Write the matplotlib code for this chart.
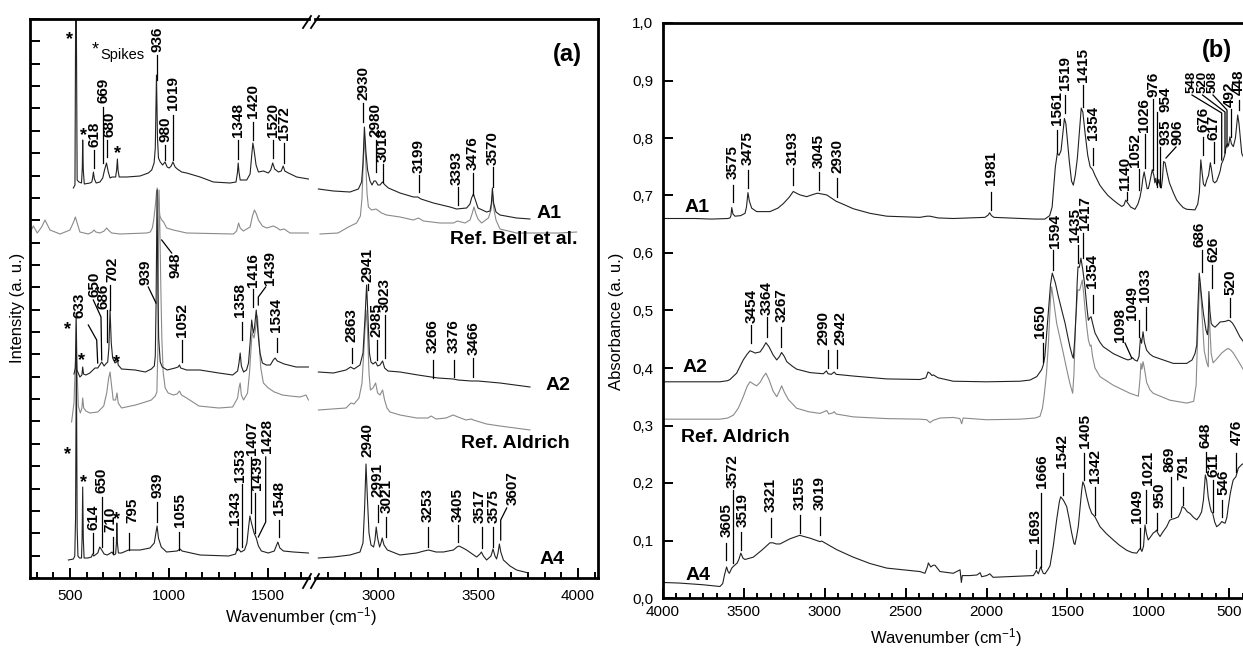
import matplotlib
matplotlib.use('Agg')
import matplotlib.pyplot as plt
from matplotlib.ticker import MultipleLocator, AutoMinorLocator, FuncFormatter, NullFormatter
from matplotlib.lines import Line2D

plt.rcParams['font.family'] = ['Liberation Sans', 'DejaVu Sans']
plt.rcParams['mathtext.default'] = 'regular'

# ---------------- data: panel (a) Raman (wavenumber, intensity a.u.) ----------------
A1_low = [(517, 390), (525, 393), (530, 640), (536, 398), (545, 396), (558, 395), (562, 410), (564, 438),
          (567, 408), (572, 394), (601, 395), (610, 396), (614, 400), (618, 406), (623, 399), (632, 395),
          (651, 396), (665, 400), (674, 408), (684, 415), (693, 406), (702, 400), (712, 401), (730, 401),
          (735, 408), (739, 419), (742, 408), (748, 401), (786, 401), (853, 402), (895, 405), (912, 408),
          (924, 415), (930, 430), (936, 503), (941, 440), (946, 420), (955, 416), (967, 413), (979, 416),
          (990, 411), (1000, 410), (1010, 412), (1019, 416), (1030, 411), (1041, 409), (1063, 406),
          (1088, 405), (1156, 401), (1223, 396), (1307, 395), (1337, 396), (1344, 405), (1348, 415),
          (1352, 406), (1358, 398), (1375, 398), (1391, 398), (1408, 404), (1415, 420), (1422, 435),
          (1428, 428), (1438, 413), (1450, 406), (1475, 407), (1500, 405), (1512, 408), (1522, 415),
          (1532, 409), (1551, 406), (1565, 407), (1575, 412), (1583, 407), (1601, 405), (1643, 401),
          (1702, 399)]
A1_high = [(2702, 389), (2777, 387), (2860, 386), (2902, 389), (2918, 396), (2925, 415), (2932, 451),
           (2940, 425), (2948, 408), (2960, 397), (2970, 393), (2980, 397), (2988, 397), (3000, 393),
           (3010, 393), (3022, 396), (3035, 393), (3052, 390), (3110, 385), (3177, 381), (3199, 381),
           (3215, 379), (3277, 375), (3360, 371), (3393, 369), (3443, 370), (3460, 374), (3468, 380),
           (3477, 384), (3487, 378), (3500, 370), (3543, 366), (3560, 367), (3567, 375), (3572, 390),
           (3578, 375), (3590, 366), (3610, 363), (3693, 360), (3760, 359)]
Bell_low = [(298, 345), (315, 352), (335, 345), (357, 351), (374, 358), (399, 348), (450, 344), (500, 348),
            (518, 356), (527, 361), (536, 355), (550, 346), (592, 344), (612, 346), (621, 348), (630, 346),
            (651, 345), (672, 347), (685, 350), (698, 347), (710, 345), (752, 344), (887, 345), (905, 346),
            (915, 350), (922, 358), (930, 372), (936, 385), (940, 390), (946, 375), (953, 362), (962, 358),
            (972, 356), (987, 350), (1021, 348), (1088, 345), (1324, 344), (1340, 347), (1350, 355),
            (1358, 350), (1374, 347), (1408, 351), (1420, 362), (1430, 368), (1440, 364), (1450, 358),
            (1470, 352), (1492, 350), (1525, 352), (1545, 350), (1559, 348), (1580, 349), (1609, 345),
            (1702, 345)]
Bell_high = [(2710, 344), (2800, 345), (2852, 351), (2893, 355), (2912, 362), (2920, 380), (2927, 420),
             (2932, 440), (2938, 420), (2945, 385), (2952, 371), (2968, 368), (2990, 369), (3018, 365),
             (3043, 363), (3110, 361), (3177, 358), (3202, 360), (3227, 357), (3310, 355), (3377, 355),
             (3397, 357), (3435, 355), (3460, 358), (3470, 364), (3480, 371), (3490, 364), (3500, 359),
             (3518, 355), (3552, 360), (3565, 368), (3573, 383), (3580, 368), (3590, 358), (3610, 349),
             (3693, 345), (3910, 345), (3993, 346)]
A2_low = [(520, 204), (527, 210), (531, 265), (535, 208), (550, 201), (560, 203), (564, 211), (568, 204),
          (580, 203), (600, 205), (626, 210), (640, 210), (650, 213), (660, 216), (672, 212), (680, 214),
          (690, 216), (696, 230), (702, 268), (708, 235), (715, 220), (727, 215), (735, 216), (739, 220),
          (743, 213), (760, 209), (828, 208), (880, 206), (910, 209), (925, 212), (930, 222), (934, 275),
          (939, 388), (943, 290), (947, 240), (955, 216), (965, 211), (990, 208), (1030, 210), (1045, 211),
          (1052, 213), (1058, 210), (1088, 208), (1155, 208), (1250, 205), (1320, 203), (1345, 207),
          (1352, 215), (1358, 225), (1364, 212), (1375, 206), (1390, 208), (1400, 215), (1408, 235),
          (1416, 258), (1424, 245), (1430, 250), (1439, 268), (1448, 245), (1458, 225), (1470, 215),
          (1490, 213), (1510, 213), (1525, 218), (1534, 220), (1545, 217), (1580, 214), (1640, 211),
          (1702, 211)]
A2_high = [(2702, 206), (2777, 205), (2840, 208), (2863, 211), (2880, 209), (2910, 213), (2925, 225),
           (2935, 260), (2943, 293), (2950, 260), (2957, 225), (2965, 216), (2975, 214), (2988, 216),
           (2998, 212), (3010, 213), (3023, 217), (3033, 210), (3050, 207), (3110, 206), (3200, 203),
           (3266, 201), (3300, 200), (3376, 199), (3400, 198), (3466, 197), (3500, 197), (3610, 195),
           (3760, 191)]
Ald_low = [(508, 156), (520, 175), (527, 215), (532, 225), (537, 200), (542, 172), (552, 165), (560, 170),
           (564, 180), (569, 170), (580, 167), (600, 165), (640, 166), (670, 172), (685, 185), (695, 200),
           (702, 206), (708, 195), (718, 178), (730, 178), (737, 185), (743, 175), (760, 170), (830, 173),
           (880, 176), (910, 178), (930, 182), (938, 186), (943, 230), (946, 330), (949, 388), (953, 350),
           (958, 290), (963, 240), (970, 205), (980, 190), (995, 185), (1020, 183), (1040, 184),
           (1052, 187), (1062, 183), (1088, 180), (1150, 172), (1250, 170), (1320, 171), (1345, 180),
           (1352, 190), (1358, 195), (1364, 183), (1375, 178), (1395, 185), (1405, 205), (1418, 245),
           (1428, 240), (1436, 250), (1445, 262), (1452, 240), (1462, 210), (1475, 195), (1500, 190),
           (1530, 186), (1545, 185), (1570, 183), (1610, 182), (1660, 181), (1690, 183), (1702, 178)]
Ald_high = [(2702, 168), (2840, 170), (2865, 175), (2880, 174), (2905, 180), (2920, 195), (2930, 230),
            (2940, 268), (2947, 250), (2955, 205), (2962, 188), (2975, 190), (2988, 195), (2998, 185),
            (3010, 183), (3023, 188), (3033, 178), (3045, 170), (3060, 166), (3110, 163), (3193, 160),
            (3250, 160), (3266, 162), (3290, 159), (3340, 160), (3376, 163), (3400, 161), (3440, 158),
            (3466, 159), (3477, 158), (3543, 154), (3610, 152), (3760, 148)]
A4_low = [(492, 18), (517, 19), (524, 22), (528, 60), (532, 230), (536, 50), (540, 22), (548, 20), (558, 20),
          (561, 40), (564, 91), (567, 40), (571, 20), (590, 20), (608, 21), (614, 24), (620, 22), (640, 25),
          (650, 31), (660, 28), (672, 24), (688, 23), (705, 25), (712, 26), (720, 23), (730, 24), (734, 35),
          (736, 55), (739, 35), (744, 25), (760, 25), (795, 28), (853, 28), (903, 30), (925, 35), (933, 45),
          (939, 52), (946, 40), (960, 31), (987, 26), (1040, 27), (1055, 29), (1065, 27), (1156, 23),
          (1300, 22), (1335, 24), (1343, 30), (1353, 28), (1362, 26), (1380, 28), (1392, 35), (1400, 50),
          (1407, 62), (1415, 55), (1428, 45), (1439, 40), (1450, 32), (1465, 27), (1500, 25), (1530, 27),
          (1540, 32), (1548, 36), (1558, 30), (1576, 27), (1626, 26), (1702, 25)]
A4_high = [(2702, 20), (2777, 21), (2860, 23), (2910, 26), (2925, 35), (2933, 70), (2940, 114), (2947, 80),
           (2955, 45), (2965, 33), (2978, 31), (2985, 38), (2991, 51), (2998, 40), (3008, 31), (3015, 35),
           (3021, 40), (3030, 33), (3047, 28), (3110, 23), (3193, 25), (3230, 27), (3253, 28), (3290, 26),
           (3327, 26), (3377, 28), (3395, 31), (3405, 32), (3425, 30), (3443, 28), (3493, 21), (3510, 24),
           (3517, 26), (3527, 22), (3543, 18), (3565, 22), (3575, 29), (3585, 22), (3593, 19), (3600, 25),
           (3607, 34), (3614, 26), (3627, 18), (3660, 12), (3693, 8), (3752, 5)]

# ---------------- data: panel (b) IR absorbance ----------------
A1_ir = [(4000, 0.660), (3800, 0.660), (3700, 0.659), (3600, 0.660), (3586, 0.661), (3580, 0.665),
         (3575, 0.679), (3568, 0.668), (3555, 0.664), (3520, 0.665), (3493, 0.669), (3484, 0.680),
         (3475, 0.705), (3466, 0.690), (3452, 0.678), (3421, 0.672), (3339, 0.672), (3290, 0.678),
         (3256, 0.686), (3220, 0.697), (3195, 0.707), (3175, 0.704), (3153, 0.701), (3112, 0.698),
         (3070, 0.702), (3045, 0.704), (2988, 0.701), (2930, 0.690), (2880, 0.684), (2824, 0.677),
         (2721, 0.669), (2617, 0.664), (2412, 0.662), (2370, 0.664), (2350, 0.664), (2300, 0.661),
         (2206, 0.660), (2010, 0.662), (1990, 0.666), (1981, 0.670), (1970, 0.665), (1955, 0.662),
         (1794, 0.660), (1700, 0.659), (1640, 0.659), (1610, 0.665), (1595, 0.680), (1585, 0.715),
         (1575, 0.750), (1563, 0.773), (1552, 0.770), (1540, 0.778), (1528, 0.810), (1519, 0.834),
         (1510, 0.825), (1500, 0.795), (1489, 0.760), (1475, 0.725), (1464, 0.718), (1452, 0.735),
         (1439, 0.765), (1425, 0.815), (1415, 0.852), (1405, 0.845), (1392, 0.810), (1375, 0.770),
         (1360, 0.750), (1354, 0.748), (1345, 0.745), (1330, 0.735), (1300, 0.718), (1279, 0.710),
         (1250, 0.700), (1217, 0.692), (1190, 0.686), (1165, 0.681), (1152, 0.683), (1140, 0.692),
         (1130, 0.688), (1110, 0.680), (1083, 0.676), (1065, 0.685), (1052, 0.697), (1042, 0.712),
         (1034, 0.730), (1026, 0.741), (1018, 0.728), (1008, 0.712), (1000, 0.712), (990, 0.725),
         (976, 0.745), (966, 0.735), (960, 0.722), (954, 0.730), (948, 0.718), (940, 0.722), (935, 0.728),
         (928, 0.716), (920, 0.713), (913, 0.730), (906, 0.759), (897, 0.757), (885, 0.740), (870, 0.722),
         (846, 0.705), (825, 0.692), (805, 0.685), (785, 0.679), (763, 0.676), (712, 0.675), (695, 0.685),
         (685, 0.705), (676, 0.762), (668, 0.740), (660, 0.720), (650, 0.716), (638, 0.728), (628, 0.735),
         (617, 0.757), (610, 0.745), (600, 0.725), (590, 0.722), (578, 0.725), (565, 0.735), (557, 0.742),
         (548, 0.755), (537, 0.762), (528, 0.770), (520, 0.785), (510, 0.790), (505, 0.786), (496, 0.802),
         (487, 0.790), (475, 0.785), (462, 0.800), (455, 0.820), (448, 0.840), (440, 0.825), (430, 0.795),
         (423, 0.773), (400, 0.760)]
A2_ir = [(4000, 0.376), (3800, 0.376), (3648, 0.376), (3600, 0.378), (3586, 0.380), (3545, 0.391),
         (3504, 0.414), (3480, 0.424), (3462, 0.430), (3445, 0.428), (3431, 0.426), (3400, 0.428),
         (3380, 0.436), (3364, 0.444), (3345, 0.437), (3320, 0.423), (3297, 0.414), (3280, 0.420),
         (3267, 0.427), (3250, 0.420), (3235, 0.411), (3200, 0.403), (3174, 0.398), (3091, 0.392),
         (3009, 0.390), (2990, 0.395), (2980, 0.390), (2960, 0.389), (2942, 0.393), (2930, 0.389),
         (2824, 0.386), (2700, 0.383), (2617, 0.381), (2412, 0.380), (2375, 0.383), (2362, 0.393),
         (2350, 0.391), (2338, 0.387), (2329, 0.388), (2300, 0.383), (2206, 0.377), (2000, 0.376),
         (1794, 0.377), (1732, 0.379), (1690, 0.385), (1660, 0.397), (1650, 0.405), (1640, 0.420),
         (1630, 0.455), (1619, 0.495), (1605, 0.545), (1594, 0.565), (1575, 0.548), (1557, 0.525),
         (1535, 0.500), (1515, 0.478), (1500, 0.457), (1485, 0.437), (1470, 0.421), (1464, 0.417),
         (1455, 0.450), (1447, 0.495), (1440, 0.550), (1435, 0.576), (1427, 0.575), (1417, 0.591),
         (1405, 0.570), (1392, 0.541), (1380, 0.505), (1371, 0.483), (1360, 0.488), (1354, 0.489),
         (1345, 0.478), (1330, 0.461), (1300, 0.445), (1279, 0.437), (1217, 0.425), (1155, 0.417),
         (1126, 0.414), (1105, 0.416), (1098, 0.418), (1085, 0.414), (1069, 0.412), (1058, 0.420),
         (1049, 0.452), (1042, 0.443), (1033, 0.463), (1025, 0.445), (1011, 0.431), (990, 0.424),
         (970, 0.420), (908, 0.414), (846, 0.408), (763, 0.408), (730, 0.414), (712, 0.425), (701, 0.440),
         (694, 0.505), (686, 0.565), (680, 0.550), (672, 0.525), (660, 0.495), (644, 0.466), (635, 0.458),
         (630, 0.475), (626, 0.533), (620, 0.500), (612, 0.478), (603, 0.474), (588, 0.471), (570, 0.476),
         (557, 0.480), (526, 0.481), (505, 0.483), (495, 0.482), (480, 0.478), (465, 0.471), (434, 0.454),
         (413, 0.446), (400, 0.440)]
Ald_ir = [(4000, 0.350), (3995, 0.311), (3800, 0.311), (3648, 0.311), (3600, 0.313), (3565, 0.318),
          (3535, 0.330), (3504, 0.350), (3480, 0.368), (3462, 0.376), (3440, 0.372), (3421, 0.369),
          (3400, 0.375), (3380, 0.385), (3364, 0.391), (3345, 0.380), (3320, 0.360), (3297, 0.350),
          (3280, 0.360), (3267, 0.369), (3250, 0.358), (3225, 0.345), (3174, 0.330), (3100, 0.324),
          (3030, 0.321), (2988, 0.326), (2975, 0.320), (2950, 0.322), (2942, 0.324), (2930, 0.320),
          (2824, 0.315), (2617, 0.312), (2412, 0.311), (2370, 0.310), (2350, 0.305), (2330, 0.309),
          (2288, 0.313), (2206, 0.314), (2165, 0.312), (2154, 0.303), (2145, 0.313), (2000, 0.310),
          (1794, 0.311), (1700, 0.313), (1670, 0.316), (1655, 0.330), (1645, 0.350), (1630, 0.390),
          (1619, 0.437), (1605, 0.520), (1598, 0.541), (1585, 0.515), (1567, 0.478), (1545, 0.450),
          (1526, 0.426), (1505, 0.398), (1485, 0.373), (1468, 0.356), (1460, 0.390), (1450, 0.480),
          (1437, 0.536), (1425, 0.535), (1409, 0.553), (1400, 0.530), (1392, 0.503), (1380, 0.470),
          (1371, 0.449), (1360, 0.438), (1354, 0.440), (1345, 0.420), (1330, 0.400), (1299, 0.385),
          (1217, 0.370), (1114, 0.356), (1062, 0.351), (1052, 0.380), (1046, 0.408), (1040, 0.398),
          (1033, 0.411), (1025, 0.400), (1011, 0.375), (990, 0.362), (970, 0.356), (867, 0.344),
          (763, 0.339), (720, 0.342), (705, 0.370), (694, 0.470), (684, 0.547), (676, 0.530), (668, 0.490),
          (655, 0.430), (640, 0.410), (630, 0.402), (626, 0.501), (620, 0.470), (612, 0.425), (600, 0.409),
          (580, 0.415), (547, 0.426), (520, 0.432), (506, 0.434), (490, 0.431), (475, 0.426), (440, 0.410),
          (413, 0.397), (400, 0.390)]
A4_ir = [(4000, 0.027), (3900, 0.026), (3751, 0.023), (3648, 0.020), (3631, 0.025), (3620, 0.040),
         (3607, 0.054), (3598, 0.046), (3590, 0.043), (3575, 0.052), (3565, 0.055), (3541, 0.061),
         (3530, 0.068), (3519, 0.078), (3505, 0.069), (3493, 0.067), (3442, 0.071), (3390, 0.083),
         (3339, 0.096), (3321, 0.096), (3300, 0.094), (3277, 0.094), (3215, 0.103), (3155, 0.109),
         (3091, 0.104), (3030, 0.098), (3019, 0.099), (2926, 0.084), (2824, 0.071), (2721, 0.060),
         (2617, 0.052), (2515, 0.049), (2412, 0.046), (2381, 0.043), (2365, 0.055), (2360, 0.061),
         (2345, 0.054), (2330, 0.057), (2319, 0.057), (2288, 0.046), (2206, 0.043), (2164, 0.049),
         (2156, 0.027), (2150, 0.039), (2103, 0.039), (2060, 0.040), (2040, 0.044), (2030, 0.037),
         (2000, 0.039), (1980, 0.042), (1960, 0.036), (1794, 0.038), (1711, 0.039), (1700, 0.044),
         (1693, 0.048), (1680, 0.042), (1666, 0.054), (1650, 0.043), (1639, 0.042), (1620, 0.050),
         (1608, 0.056), (1588, 0.090), (1567, 0.136), (1550, 0.168), (1542, 0.176), (1525, 0.170),
         (1505, 0.159), (1490, 0.138), (1474, 0.113), (1460, 0.095), (1454, 0.093), (1443, 0.108),
         (1433, 0.125), (1420, 0.165), (1412, 0.188), (1405, 0.202), (1395, 0.195), (1381, 0.176),
         (1365, 0.158), (1350, 0.147), (1342, 0.145), (1330, 0.141), (1299, 0.124), (1260, 0.112),
         (1217, 0.101), (1180, 0.092), (1134, 0.083), (1100, 0.079), (1072, 0.078), (1055, 0.085),
         (1049, 0.086), (1040, 0.081), (1030, 0.090), (1021, 0.127), (1012, 0.112), (1001, 0.101),
         (990, 0.105), (970, 0.113), (955, 0.116), (950, 0.118), (940, 0.112), (928, 0.107), (910, 0.115),
         (887, 0.124), (869, 0.135), (856, 0.137), (840, 0.138), (815, 0.141), (800, 0.150), (791, 0.159),
         (775, 0.156), (760, 0.150), (743, 0.147), (720, 0.140), (701, 0.136), (685, 0.142), (671, 0.150),
         (660, 0.170), (648, 0.214), (640, 0.205), (630, 0.175), (619, 0.159), (611, 0.150), (603, 0.148),
         (590, 0.132), (578, 0.124), (560, 0.128), (546, 0.133), (535, 0.131), (526, 0.130), (515, 0.140),
         (506, 0.159), (495, 0.180), (485, 0.194), (476, 0.205), (468, 0.208), (459, 0.211), (450, 0.220),
         (444, 0.226), (423, 0.232), (400, 0.236)]

# ---------------- layout helpers (pixel -> figure) ----------------
W, H = 1243, 648
fig = plt.figure(figsize=(W / 100, H / 100), dpi=100)


def fx(px):
    return px / W


def fy(py):
    return 1 - py / H


DARK = '#222222'
GRAY = '#8a8a8a'
LW = 0.8


def style(ax, size_major=7, size_minor=4):
    for s in ax.spines.values():
        s.set_linewidth(2.0)
    ax.tick_params(which='both', direction='in', width=1.4, labelsize=11)
    ax.tick_params(which='major', length=size_major)
    ax.tick_params(which='minor', length=size_minor)


def curve(ax, pts, color):
    xs, ys = zip(*pts)
    ax.plot(xs, ys, color=color, lw=LW)


# ---------------- panel (a) : broken x axis ----------------
axL = fig.add_axes([fx(30), fy(578), fx(309) - fx(30), fy(19) - fy(578)])
axR = fig.add_axes([fx(315), fy(578), fx(598) - fx(315), fy(19) - fy(578)])
for ax, lim in ((axL, (298.3, 1705)), (axR, (2685, 4100))):
    ax.set_xlim(*lim)
    ax.set_ylim(0, 559)
    style(ax)
    ax.xaxis.set_major_locator(MultipleLocator(500))
    ax.xaxis.set_minor_locator(AutoMinorLocator(6))
    ax.tick_params(axis='x', pad=8)
    ax.tick_params(top=False, right=False)

axL.spines['right'].set_visible(False)
axR.spines['left'].set_visible(False)
axL.yaxis.set_major_locator(MultipleLocator(559 / 25))
axL.yaxis.set_major_formatter(NullFormatter())
axR.tick_params(left=False, labelleft=False)

for pts in (Bell_low, Ald_low):
    curve(axL, pts, GRAY)
for pts in (A1_low, A2_low, A4_low):
    curve(axL, pts, DARK)
for pts in (Bell_high, Ald_high):
    curve(axR, pts, GRAY)
for pts in (A1_high, A2_high, A4_high):
    curve(axR, pts, DARK)

# break marks
for (x0, y0, x1, y1) in [(303, 28, 311, 16), (311, 28, 319, 16), (303, 588, 311, 574), (311, 588, 319, 574)]:
    fig.add_artist(Line2D([fx(x0), fx(x1)], [fy(y0), fy(y1)], transform=fig.transFigure,
                          color='black', lw=1.3))

# ---------------- panel (b) ----------------
axB = fig.add_axes([fx(663), fy(598), fx(1250) - fx(663), fy(23) - fy(598)])
axB.set_xlim(4000, 372)
axB.set_ylim(0, 1.0)
style(axB, 7, 3.5)
axB.spines['right'].set_visible(False)
axB.xaxis.set_major_locator(MultipleLocator(500))
axB.xaxis.set_minor_locator(AutoMinorLocator(6))
axB.yaxis.set_major_locator(MultipleLocator(0.1))
axB.yaxis.set_major_formatter(FuncFormatter(lambda v, p: f'{v:.1f}'.replace('.', ',')))
axB.tick_params(axis='x', pad=5)
axB.tick_params(axis='y', pad=7)
axB.tick_params(top=False, right=False)

curve(axB, Ald_ir, GRAY)
for pts in (A1_ir, A2_ir, A4_ir):
    curve(axB, pts, DARK)

# ---------------- text ----------------
fig.text(fx(18), fy(308), 'Intensity (a. u.)', rotation=90, ha='center', va='center', fontsize=12)
fig.text(fx(301), fy(617), 'Wavenumber (cm$^{-1}$)', ha='center', va='center', fontsize=12)
fig.text(fx(617), fy(321), 'Absorbance (a. u.)', rotation=90, ha='center', va='center', fontsize=12)
fig.text(fx(946), fy(638), 'Wavenumber (cm$^{-1}$)', ha='center', va='center', fontsize=12)

fig.text(fx(567), fy(55), '(a)', ha='center', va='center', fontsize=17, fontweight='bold')
fig.text(fx(1217), fy(50), '(b)', ha='center', va='center', fontsize=17, fontweight='bold')

names = [('A1', 562, 213), ('Ref. Bell et al.', 578, 240), ('A2', 570, 385), ('Ref. Aldrich', 570, 443),
         ('A4', 565, 560)]
for t, x, y in names:
    fig.text(fx(x), fy(y), t, ha='right', va='center', fontsize=14, fontweight='bold')
names_b = [('A1', 697, 208), ('A2', 695, 368), ('Ref. Aldrich', 735, 437), ('A4', 698, 575)]
for t, x, y in names_b:
    fig.text(fx(x), fy(y), t, ha='center', va='center', fontsize=14, fontweight='bold')

stars = [(69, 37), (83, 133), (118, 151), (68, 327), (82, 358), (117, 360), (67, 452), (83, 480), (117, 517)]
for x, y in stars:
    fig.text(fx(x), fy(y + 7), '*', ha='center', va='baseline', fontsize=13, fontweight='bold')
fig.text(fx(95), fy(47 + 7), '*', ha='center', va='baseline', fontsize=13)
fig.text(fx(100), fy(55), 'Spikes', ha='left', va='center', fontsize=10.5)

peak_labels = [
    # panel (a) A1
    ('936', 157, 52, [(157, 55), (157, 80)]),
    ('669', 104, 103, [(103.3, 107), (103.3, 163)]),
    ('680', 110, 137, [(106.7, 140), (106.7, 157)]),
    ('618', 94, 147, [(94.3, 150), (94.3, 168)]),
    ('980', 165, 142, [(165, 145), (165, 160)]),
    ('1019', 173, 110, [(173.3, 115), (173.3, 160)]),
    ('1348', 238, 137, [(238.3, 140), (238.3, 159)]),
    ('1420', 253, 118, [(253.3, 122), (253.3, 140)]),
    ('1520', 273, 137, [(273.3, 140), (273.3, 158)]),
    ('1572', 284, 140, [(284, 143), (284, 163)]),
    ('2930', 363, 100, [(363.3, 103), (363.3, 122)]),
    ('2980', 375, 137, [(376, 140), (376, 172)]),
    ('3018', 383, 162, [(383.3, 164), (383.3, 182)]),
    ('3199', 419, 173, [(419.3, 175), (419.3, 192)]),
    ('3393', 457, 185, [(457.7, 187), (457.7, 205)]),
    ('3476', 473, 170, [(473.3, 173), (473.3, 195)]),
    ('3570', 493, 165, [(492.7, 167), (492.7, 187)]),
    # panel (a) A2
    ('633', 80, 318, [(88.3, 325), (96.7, 340), (97.7, 363)]),
    ('650', 94, 297, [(93.3, 300), (101, 317), (101.7, 360)]),
    ('686', 104, 309, [(106.7, 310), (106.7, 342)]),
    ('702', 112, 282, [(110, 285), (110, 310)]),
    ('939', 146, 285, [(148.3, 287), (156, 303)]),
    ('948', 175, 278, [(171.7, 253), (161.7, 240)]),
    ('1052', 182, 337, [(181.7, 340), (181.7, 362)]),
    ('1358', 240, 317, [(241.7, 322), (241.7, 340)]),
    ('1416', 253, 287, [(253.3, 289), (253.3, 307)]),
    ('1439', 270, 285, [(265.7, 287), (258.3, 297), (258.3, 305)]),
    ('1534', 276, 332, [(276.7, 338), (276.7, 352)]),
    ('2863', 352, 342, [(351.7, 348), (351.7, 363)]),
    ('2941', 368, 282, [(368, 284), (368, 290)]),
    ('2985', 376, 337, [(377.3, 340), (377.3, 360)]),
    ('3023', 385, 312, [(385.3, 315), (385.3, 358)]),
    ('3266', 433, 353, [(432.7, 360), (432.7, 378)]),
    ('3376', 454, 353, [(454, 360), (454, 377)]),
    ('3466', 474, 355, [(473.3, 358), (473.3, 377)]),
    # panel (a) A4
    ('614', 93, 530, [(93.3, 533), (93.3, 553)]),
    ('650', 102, 493, [(101.7, 497), (101.7, 547)]),
    ('710', 110, 532, [(112.7, 537), (112.7, 553)]),
    ('795', 132, 523, [(129.3, 533), (129.3, 550)]),
    ('939', 157, 498, [(157.3, 502), (157.3, 522)]),
    ('1055', 180, 527, [(179.3, 532), (179.3, 550)]),
    ('1343', 235, 525, [(237.3, 528), (237.3, 550)]),
    ('1353', 240, 482, [(241.7, 484), (241.7, 547)]),
    ('1407', 252, 455, [(250.7, 457), (250.7, 513)]),
    ('1439', 257, 490, [(255, 493), (255, 533)]),
    ('1428', 267, 453, [(265.7, 457), (265.7, 522), (258.3, 537)]),
    ('1548', 279, 515, [(279.3, 520), (279.3, 537)]),
    ('2940', 368, 457, None),
    ('2991', 378, 497, [(378.3, 505), (378.3, 522)]),
    ('3021', 387, 513, [(386, 517), (386, 537)]),
    ('3253', 428, 522, [(428.3, 527), (428.3, 547)]),
    ('3405', 458, 522, [(458.3, 525), (458.3, 542)]),
    ('3517', 480, 523, [(481.7, 527), (481.7, 548)]),
    ('3575', 494, 523, [(493.3, 527), (493.3, 547)]),
    ('3607', 513, 505, [(506.7, 508), (500.7, 520), (500.7, 540)]),
    # panel (b) A1
    ('3575', 733, 179, [(732.7, 185), (732.7, 202)]),
    ('3475', 748, 165, [(748.3, 170), (748.3, 188)]),
    ('3193', 793, 165, [(793.3, 168), (793.3, 185)]),
    ('3045', 819, 168, [(819, 172), (819, 190)]),
    ('2930', 837, 173, [(837.3, 178), (837.3, 197)]),
    ('1981', 991, 185, [(990.7, 192), (990.7, 210)]),
    ('1561', 1057, 125, [(1056.7, 130), (1056.7, 153)]),
    ('1519', 1065, 90, [(1065, 95), (1065, 113)]),
    ('1415', 1083, 82, [(1082.7, 85), (1082.7, 107)]),
    ('1354', 1093, 140, [(1092.7, 148), (1092.7, 165)]),
    ('1140', 1125, 190, [(1126.7, 192), (1126.7, 200)]),
    ('1052', 1135, 167, [(1139, 169), (1139, 190)]),
    ('1026', 1144, 132, [(1145, 134), (1145, 168)]),
    ('976', 1153, 97, [(1153.3, 99), (1153.3, 170)]),
    ('954', 1165, 112, [(1157.3, 112), (1157.3, 187)]),
    ('935', 1165, 145, [(1160, 147), (1160, 187)]),
    ('906', 1178, 145, [(1176, 147), (1166, 158)]),
    ('676', 1203, 132, [(1202.7, 137), (1202.7, 155)]),
    ('617', 1214, 140, [(1214, 142), (1214, 163)]),
    ('492', 1230, 107, [(1230.7, 109), (1230.7, 137)]),
    ('448', 1239, 95, [(1239.3, 100), (1239.3, 110)]),
    # panel (b) A2
    ('3454', 752, 323, [(751, 325), (751, 343)]),
    ('3364', 767, 315, [(766.7, 317), (766.7, 337)]),
    ('3267', 782, 322, [(780.7, 327), (780.7, 347)]),
    ('2990', 824, 345, [(828.3, 350), (828.3, 368)]),
    ('2942', 840, 345, [(837.3, 350), (837.3, 368)]),
    ('1594', 1055, 248, [(1053.3, 250), (1053.3, 270)]),
    ('1435', 1075, 242, [(1078.3, 245), (1078.3, 263)]),
    ('1417', 1085, 230, [(1082.7, 233), (1082.7, 258)]),
    ('1354', 1092, 288, [(1092.7, 295), (1092.7, 313)]),
    ('1650', 1040, 338, [(1043.3, 343), (1043.3, 362)]),
    ('1098', 1120, 342, [(1125, 343), (1131.7, 358)]),
    ('1049', 1132, 320, [(1139.3, 320), (1139.3, 337)]),
    ('1033', 1145, 302, [(1146, 307), (1146, 330)]),
    ('686', 1200, 247, [(1201.7, 250), (1201.7, 272)]),
    ('626', 1213, 262, [(1211.7, 265), (1211.7, 288)]),
    ('520', 1230, 295, [(1230, 298), (1230, 317)]),
    # panel (b) A4
    ('3605', 727, 537, [(726, 543), (726, 560)]),
    ('3572', 733, 488, [(732.7, 490), (732.7, 563)]),
    ('3519', 743, 527, [(741, 532), (741, 550)]),
    ('3321', 771, 512, [(770.7, 518), (770.7, 537)]),
    ('3155', 800, 510, [(800, 515), (800, 533)]),
    ('3019', 820, 510, [(820, 517), (820, 535)]),
    ('1693', 1035, 543, [(1036, 550), (1036, 568)]),
    ('1666', 1042, 488, [(1041, 493), (1041, 567)]),
    ('1542', 1062, 468, [(1062.7, 473), (1062.7, 495)]),
    ('1405', 1085, 448, [(1084, 453), (1084, 480)]),
    ('1342', 1095, 483, [(1095, 487), (1095, 515)]),
    ('1049', 1137, 523, [(1140, 528), (1140, 548)]),
    ('1021', 1148, 485, [(1146, 490), (1146, 523)]),
    ('950', 1159, 508, [(1157.3, 513), (1157.3, 530)]),
    ('869', 1170, 472, [(1170.7, 477), (1170.7, 517)]),
    ('791', 1183, 480, [(1183.3, 487), (1183.3, 505)]),
    ('648', 1206, 448, [(1205.7, 452), (1205.7, 472)]),
    ('611', 1214, 477, [(1213.3, 480), (1213.3, 512)]),
    ('546', 1223, 495, [(1222.3, 500), (1222.3, 517)]),
    ('476', 1237, 445, [(1235.7, 453), (1235.7, 472)]),
]
# tightly packed labels drawn slightly smaller
packed_labels = [
    ('548', 1192, 93, [(1192, 95), (1221.7, 113), (1221.7, 160)]),
    ('520', 1202.5, 93, [(1202.5, 95), (1225, 112), (1225, 153)]),
    ('508', 1213, 93, [(1213, 95), (1227, 110), (1227, 147)]),
]


def draw_label(txt, cx, ybot, leader, size):
    fig.text(fx(cx), fy(ybot), txt, rotation=90, ha='center', va='bottom', fontsize=size,
             fontweight='bold')
    if leader:
        fig.add_artist(Line2D([fx(p[0]) for p in leader], [fy(p[1]) for p in leader],
                              transform=fig.transFigure, color='black', lw=0.9))


for txt, cx, ybot, leader in peak_labels:
    draw_label(txt, cx, ybot, leader, 11)
for txt, cx, ybot, leader in packed_labels:
    draw_label(txt, cx, ybot, leader, 9.5)

fig.savefig('out.png', dpi=100)
